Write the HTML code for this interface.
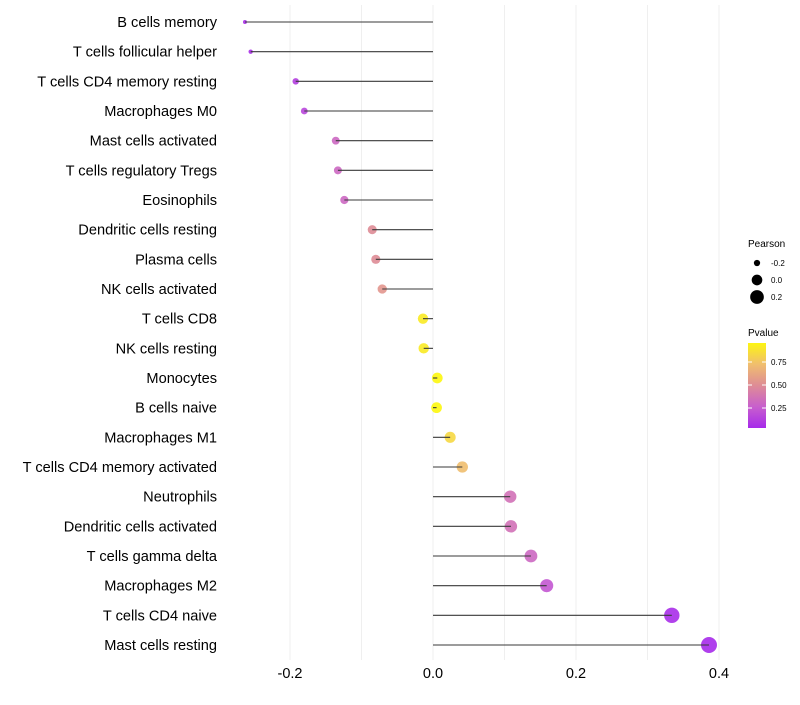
<!DOCTYPE html>
<html><head><meta charset="utf-8"><style>
body{margin:0;background:#fff;font-family:"Liberation Sans",sans-serif;}
</style></head><body>
<svg id="c" width="800" height="700" xmlns="http://www.w3.org/2000/svg"></svg>
<script>
const categories=["B cells memory","T cells follicular helper","T cells CD4 memory resting","Macrophages M0","Mast cells activated","T cells regulatory  Tregs","Eosinophils","Dendritic cells resting","Plasma cells","NK cells activated","T cells CD8","NK cells resting","Monocytes","B cells naive","Macrophages M1","T cells CD4 memory activated","Neutrophils","Dendritic cells activated","T cells gamma delta","Macrophages M2","T cells CD4 naive","Mast cells resting"];
const pearson=[-0.263,-0.255,-0.192,-0.180,-0.136,-0.133,-0.124,-0.085,-0.080,-0.071,-0.014,-0.013,0.006,0.005,0.024,0.041,0.108,0.109,0.137,0.159,0.334,0.386];
const pvalue=[0.05,0.06,0.12,0.15,0.3,0.3,0.3,0.5,0.5,0.55,0.92,0.92,0.97,0.97,0.85,0.75,0.35,0.35,0.3,0.22,0.05,0.04];
const xTicks=[-0.2,0.0,0.2,0.4];
const xTickLabels=["-0.2","0.0","0.2","0.4"];
const xMinor=[-0.1,0.1,0.3];
const NS="http://www.w3.org/2000/svg";
const svg=document.getElementById('c');
const X=v=>433+v*715;
const Y=i=>22+i*(623/21);
function mk(t,a,p){const e=document.createElementNS(NS,t);for(const k in a)e.setAttribute(k,a[k]);(p||svg).appendChild(e);return e;}
const stops=[[0,[160,32,240]],[0.25,[200,95,205]],[0.5,[222,140,150]],[0.75,[240,190,110]],[1,[255,255,0]]];
function col(p){const t=Math.max(0,Math.min(1,p));for(let i=1;i<stops.length;i++){if(t<=stops[i][0]){const [t0,a]=stops[i-1],[t1,b]=stops[i];const f=(t-t0)/(t1-t0);return `rgb(${a.map((c,k)=>Math.round(c+(b[k]-c)*f)).join(',')})`;}}return 'rgb(255,255,0)';}
function rad(v){return Math.sqrt(Math.max(1,28.3+92.4*v));}
xMinor.concat(xTicks).forEach(v=>{
 const l=mk('line',{x1:X(v),x2:X(v),y1:5,y2:660,stroke:'#efefef','stroke-width':1});
 
 
});
xTicks.forEach((v,i)=>{
 const t=mk('text',{x:X(v),y:678,'text-anchor':'middle','font-size':14.5,fill:'#000'});
 t.textContent=xTickLabels[i];
 
 
});
categories.forEach((c,i)=>{
 const y=Y(i);
 const t=mk('text',{x:217,y:y+5,'text-anchor':'end','font-size':14.6,fill:'#000','xml:space':'preserve'});
 t.textContent=c;
 
 
 const d=mk('circle',{cx:X(pearson[i]),cy:y,r:rad(pearson[i]),fill:col(pvalue[i]),'fill-opacity':0.9});
 
 
 const l=mk('line',{x1:X(0),x2:X(pearson[i]),y1:y,y2:y,stroke:'#3a3a3a','stroke-width':1.1});
 
 
});
const lg=mk('g',{});


let t=mk('text',{x:748,y:247,'font-size':10},lg);t.textContent='Pearson';
[-0.2,0.0,0.2].forEach((v,i)=>{
 const y=263+i*17;
 const c=mk('circle',{cx:757,cy:y,r:rad(v),fill:'#000'},lg);
 
 
 const tt=mk('text',{x:771,y:y+3,'font-size':8},lg);tt.textContent=xTickLabels[i];
});
t=mk('text',{x:748,y:336,'font-size':10},lg);t.textContent='Pvalue';
const defs=mk('defs',{});
const gr=mk('linearGradient',{id:'g',x1:0,y1:0,x2:0,y2:1},defs);
[0.96,0.75,0.5,0.25,0.04].forEach((p,i)=>mk('stop',{offset:String(i/4),'stop-color':col(p)},gr));
const bar=mk('rect',{x:748,y:343,width:18,height:85,fill:'url(#g)'},lg);


[["0.75",362],["0.50",385],["0.25",408]].forEach(([s,y])=>{
 mk('line',{x1:748,x2:752,y1:y,y2:y,stroke:'#fff'},lg);
 mk('line',{x1:762,x2:766,y1:y,y2:y,stroke:'#fff'},lg);
 const tt=mk('text',{x:771,y:y+3,'font-size':8},lg);tt.textContent=s;
});
</script>
</body></html>
